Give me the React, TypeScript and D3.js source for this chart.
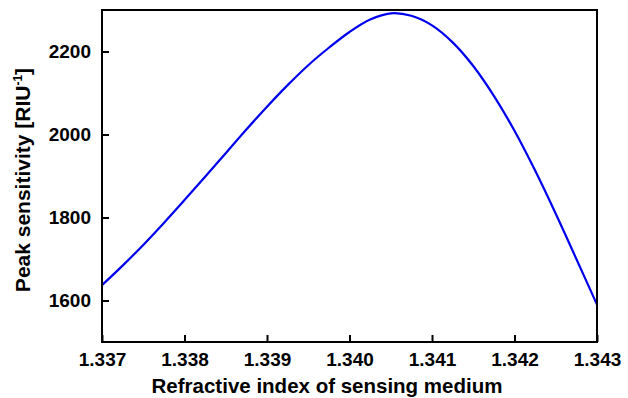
import React, { useRef, useEffect } from 'react';
import * as d3 from 'd3';

// refractive index of sensing medium
const indexValues = [
  1.337, 1.33725, 1.3375, 1.33775, 1.338, 1.33825, 1.3385, 1.33875, 1.339,
  1.33925, 1.3395, 1.33975, 1.34, 1.34025, 1.3405, 1.34075, 1.341, 1.34125,
  1.3415, 1.34175, 1.342, 1.34225, 1.3425, 1.34275, 1.343,
];
// peak sensitivity [RIU^-1]
const sensitivityValues = [
  1637, 1684, 1734, 1787, 1842, 1898, 1955, 2012, 2067,
  2119, 2167, 2209, 2247, 2277, 2292, 2286, 2263, 2222,
  2165, 2093, 2009, 1913, 1809, 1700, 1590,
];
const xTicks = [1.337, 1.338, 1.339, 1.34, 1.341, 1.342, 1.343];
const yTicks = [1600, 1800, 2000, 2200];

export default function App() {
  const svgRef = useRef<SVGSVGElement>(null);

  useEffect(() => {
    const width = 628;
    const height = 398;
    const margin = { top: 10, right: 31, bottom: 56, left: 102 };
    const innerW = width - margin.left - margin.right;
    const innerH = height - margin.top - margin.bottom;

    const svg = d3.select(svgRef.current);
    svg.selectAll('*').remove();

    const x = d3.scaleLinear().domain([1.337, 1.343]).range([0, innerW]);
    const y = d3.scaleLinear().domain([1500, 2300]).range([innerH, 0]);

    const g = svg.append('g').attr('transform', `translate(${margin.left},${margin.top})`);

    const data = indexValues.map((n, i) => ({ n, v: sensitivityValues[i] }));

    const line = d3.line<{ n: number; v: number }>()
      .x(d => x(d.n))
      .y(d => y(d.v))
      .curve(d3.curveCatmullRom.alpha(0.5));

    g.append('path')
      .datum(data)
      .attr('fill', 'none')
      .attr('stroke', '#0000ee')
      .attr('stroke-width', 2.2)
      .attr('d', line);

    // bottom axis, ticks inward
    const xAxis = g.append('g')
      .attr('transform', `translate(0,${innerH})`)
      .call(d3.axisBottom(x).tickValues(xTicks).tickFormat(d3.format('.3f')).tickSizeInner(-7).tickSizeOuter(0).tickPadding(11));
    // left axis, ticks inward
    const yAxis = g.append('g')
      .call(d3.axisLeft(y).tickValues(yTicks).tickFormat(d3.format('d')).tickSizeInner(-7).tickSizeOuter(0).tickPadding(11));

    [xAxis, yAxis].forEach(ax => {
      ax.select('.domain').remove();
      ax.selectAll('line').attr('stroke', '#000').attr('stroke-width', 2);
      ax.selectAll('text')
        .attr('fill', '#000')
        .style('font-family', '"Liberation Sans", Arial, sans-serif')
        .style('font-weight', 'bold')
        .style('font-size', '19px');
    });

    // frame
    g.append('rect')
      .attr('x', 0)
      .attr('y', 0)
      .attr('width', innerW)
      .attr('height', innerH)
      .attr('fill', 'none')
      .attr('stroke', '#000')
      .attr('stroke-width', 2);

    svg.append('text')
      .attr('x', 327)
      .attr('y', 393)
      .attr('text-anchor', 'middle')
      .style('font-family', '"Liberation Sans", Arial, sans-serif')
      .style('font-weight', 'bold')
      .style('font-size', '20.5px')
      .text('Refractive index of sensing medium');

    const yl = svg.append('text')
      .attr('transform', `translate(30,180) rotate(-90)`)
      .attr('text-anchor', 'middle')
      .style('font-family', '"Liberation Sans", Arial, sans-serif')
      .style('font-weight', 'bold')
      .style('font-size', '21px');
    yl.append('tspan').text('Peak sensitivity [RIU');
    yl.append('tspan').attr('dy', -8).style('font-size', '12px').text('-1');
    yl.append('tspan').attr('dy', 8).text(']');
  }, []);

  return (
    <svg
      ref={svgRef}
      width={628}
      height={398}
      style={{ position: 'absolute', left: 0, top: 0, background: '#fff' }}
    />
  );
}
